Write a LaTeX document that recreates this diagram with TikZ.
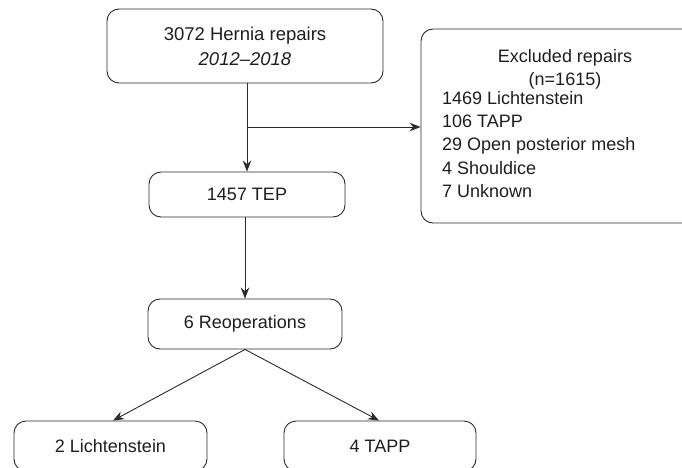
\documentclass[tikz,border=0pt]{standalone}
\usepackage{fontspec}
\setmainfont{Liberation Sans}
\usetikzlibrary{arrows.meta}
\definecolor{ln}{HTML}{2A2A2A}
\definecolor{tx}{HTML}{1E1E1E}
\tikzset{
  box/.style={draw=ln, line width=0.9pt, rounded corners=12pt, inner sep=0pt, text=tx, font=\fontsize{18}{23}\selectfont},
  conn/.style={draw=ln, line width=0.9pt, -{Stealth[length=11pt,width=8.5pt]}},
  txt/.style={inner sep=0pt, text=tx, font=\fontsize{18}{23.3}\selectfont}
}
\begin{document}
\begin{tikzpicture}[x=1pt,y=-1pt]
\useasboundingbox (0,0) rectangle (682,468);
\clip (0,0) rectangle (682,468);
\node[box, minimum width=276pt, minimum height=74pt, align=center, font=\fontsize{18.5}{25}\selectfont] (top) at (245,46) {3072 Hernia repairs\\\textit{2012–2018}};
\node[box, minimum width=290pt, minimum height=194pt] (excl) at (566,126) {};
\node[txt, align=center] (head) at (565,69) {Excluded repairs\\(n=1615)};
\node[txt, align=left, anchor=north west] (list) at (442,91) {1469 Lichtenstein\\106 TAPP\\29 Open posterior mesh\\4 Shouldice\\7 Unknown};
\node[box, minimum width=196pt, minimum height=45pt] (tep) at (247,194.5) {1457 TEP};
\node[box, minimum width=194pt, minimum height=50pt] (reop) at (245,324) {6 Reoperations};
\node[box, minimum width=193pt, minimum height=50pt] (lich) at (110.5,446) {2 Lichtenstein};
\node[box, minimum width=192pt, minimum height=50pt] (tapp) at (380,446) {4 TAPP};
\coordinate (br) at (247,127);
\draw[conn] (top.south -| tep.north) -- (tep.north);
\draw[conn] (br) -- (br -| excl.west);
\draw[conn] (tep.south -| reop.north) -- (reop.north);
\draw[conn] (reop.south) -- ([xshift=2.5pt]lich.north);
\draw[conn] (reop.south) -- ([xshift=-1pt]tapp.north);
\end{tikzpicture}
\end{document}
